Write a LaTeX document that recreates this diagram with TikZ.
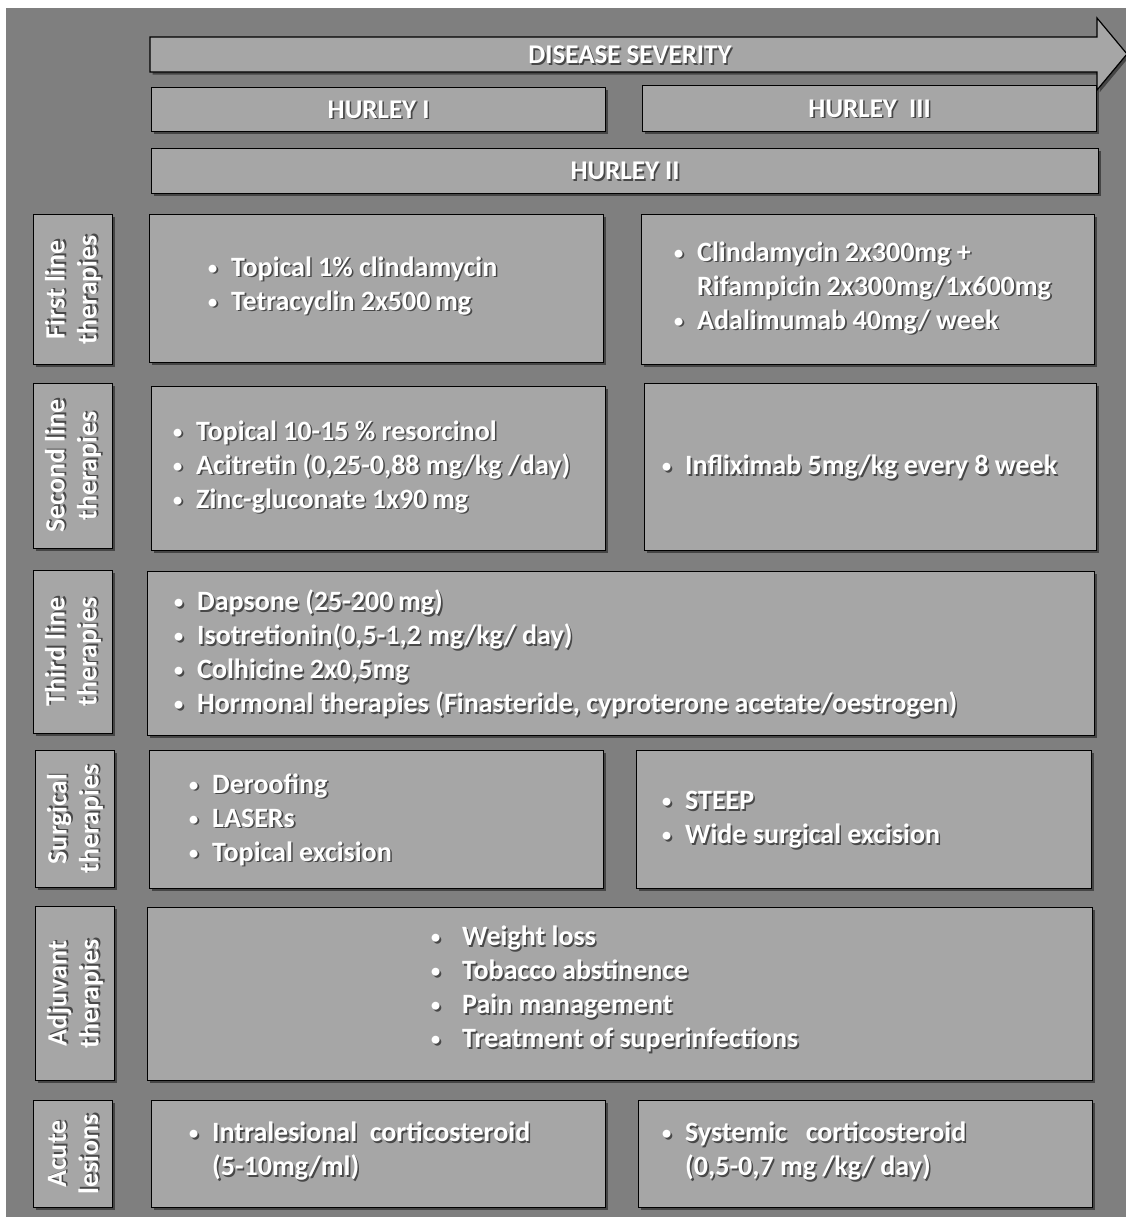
\documentclass[tikz,border=0pt]{standalone}
\usepackage{fontspec}
\setmainfont{Carlito}
\usetikzlibrary{positioning, shadows}
\definecolor{bggray}{RGB}{127,127,127}
\definecolor{boxgray}{RGB}{166,166,166}
\definecolor{txtshade}{RGB}{72,72,72}
\tikzset{
  panel/.style={draw=black, line width=1.2pt, fill=boxgray, anchor=north west, inner sep=0pt,
                drop shadow={shadow xshift=2.5pt, shadow yshift=-2.5pt, opacity=.45, fill=black}},
  bodytxt/.style={text=white, font=\fontsize{28}{34}\selectfont\bfseries, align=left, inner sep=0pt, anchor=west},
  headtxt/.style={text=white, font=\fontsize{27}{30}\selectfont\bfseries, inner sep=0pt},
  sidetxt/.style={text=white, font=\fontsize{28}{32}\selectfont\bfseries, align=center, inner sep=0pt, rotate=90},
}
\newcommand{\bul}[1]{\makebox[#1][l]{\raisebox{1pt}{\scalebox{.8}{\mdseries\textbullet}}}}
\newcommand{\itm}{\bul{24pt}}
\newcommand{\cont}{\hspace*{24pt}}
% text with its grey shadow: name, style, position, text
\newcommand{\shtext}[4]{%
  \node[#2, text=txtshade, xshift=1.6pt, yshift=-1.6pt] at #3 {#4};
  \node[#2] (#1) at #3 {#4};}

\begin{document}
\begin{tikzpicture}[x=1pt, y=-1pt]
\useasboundingbox (0,0) rectangle (1126,1219);
\fill[bggray] (6,8) rectangle (1126,1217);

% severity arrow
\coordinate (sevtip) at (1127,54);
\filldraw[draw=black, line width=1.2pt, fill=boxgray,
  drop shadow={shadow xshift=2.5pt, shadow yshift=-2.5pt, opacity=.45, fill=black}]
  (150,37) -- (1097,37) -- (1097,18) -- (sevtip) -- (1097,90) -- (1097,72) -- (150,72) -- cycle;
\shtext{sev}{headtxt}{(630,55)}{DISEASE SEVERITY}

% hurley stages
\node[panel, minimum width=454pt, minimum height=44pt] (h1) at (151,87) {};
\node[panel, minimum width=454pt, minimum height=46pt] (h3) at (642,85) {};
\node[panel, minimum width=947pt, minimum height=45pt] (h2) at (151,148) {};
\shtext{h1t}{headtxt}{(h1.center)}{HURLEY I}
\shtext{h3t}{headtxt}{(h3.center)}{HURLEY \ III}
\shtext{h2t}{headtxt}{(h2.center)}{HURLEY II}

% row labels
\node[panel, minimum width=79pt, minimum height=150pt] (lab1) at (33,214) {};
\node[panel, minimum width=79pt, minimum height=165pt] (lab2) at (33,383) {};
\node[panel, minimum width=79pt, minimum height=163pt] (lab3) at (33,570) {};
\node[panel, minimum width=79pt, minimum height=137pt] (lab4) at (35,750) {};
\node[panel, minimum width=79pt, minimum height=174pt] (lab5) at (35,906) {};
\node[panel, minimum width=79pt, minimum height=107pt] (lab6) at (33,1100) {};
\shtext{lab1t}{sidetxt}{(lab1.center)}{First line\\therapies}
\shtext{lab2t}{sidetxt}{(lab2.center)}{Second line\\therapies}
\shtext{lab3t}{sidetxt}{(lab3.center)}{Third line\\therapies}
\shtext{lab4t}{sidetxt}{(lab4.center)}{Surgical\\therapies}
\shtext{lab5t}{sidetxt}{(lab5.center)}{Adjuvant\\therapies}
\shtext{lab6t}{sidetxt}{(lab6.center)}{Acute\\lesions}

% therapy panels
\node[panel, minimum width=454pt, minimum height=148pt] (fla) at (149,214) {};
\node[panel, minimum width=453pt, minimum height=150pt] (flb) at (641,214) {};
\node[panel, minimum width=454pt, minimum height=164pt] (sla) at (151,386) {};
\node[panel, minimum width=452pt, minimum height=167pt] (slb) at (644,383) {};
\node[panel, minimum width=947pt, minimum height=164pt] (tl) at (147,571) {};
\node[panel, minimum width=454pt, minimum height=138pt] (sua) at (149,750) {};
\node[panel, minimum width=455pt, minimum height=138pt] (sub) at (636,750) {};
\node[panel, minimum width=945pt, minimum height=173pt] (adj) at (147,907) {};
\node[panel, minimum width=454pt, minimum height=107pt] (aca) at (151,1100) {};
\node[panel, minimum width=454pt, minimum height=107pt] (acb) at (638,1100) {};

\shtext{flat}{bodytxt}{([xshift=58pt, yshift=3pt]fla.west)}{\itm Topical 1\% clindamycin\\\itm Tetracyclin 2x500\,mg}
\shtext{flbt}{bodytxt}{([xshift=32pt, yshift=2pt]flb.west)}{\itm Clindamycin 2x300mg +\\\cont Rifampicin 2x300mg/1x600mg\\\itm Adalimumab 40mg/ week}
\shtext{slat}{bodytxt}{([xshift=21pt, yshift=2pt]sla.west)}{\itm Topical 10-15 \% resorcinol\\\itm Acitretin (0,25-0,88 mg/kg /day)\\\itm Zinc-gluconate 1x90\,mg}
\shtext{slbt}{bodytxt}{([xshift=17pt]slb.west)}{\itm Infliximab 5mg/kg every 8 week}
\shtext{tlt}{bodytxt}{([xshift=26pt]tl.west)}{\itm Dapsone (25-200\,mg)\\\itm Isotretionin(0,5-1,2 mg/kg/ day)\\\itm Colhicine 2x0,5mg\\\itm Hormonal therapies (Finasteride, cyproterone acetate/oestrogen)}
\shtext{suat}{bodytxt}{([xshift=39pt]sua.west)}{\itm Deroofing\\\itm LASERs\\\itm Topical excision}
\shtext{subt}{bodytxt}{([xshift=25pt]sub.west)}{\itm STEEP\\\itm Wide surgical excision}
\shtext{adjt}{bodytxt}{([xshift=283pt, yshift=5pt]adj.west)}{\bul{32pt}Weight loss\\\bul{32pt}Tobacco abstinence\\\bul{32pt}Pain management\\\bul{32pt}Treatment of superinfections}
\shtext{acat}{bodytxt}{([xshift=37pt, yshift=3pt]aca.west)}{\itm Intralesional \ corticosteroid\\\cont (5-10mg/ml)}
\shtext{acbt}{bodytxt}{([xshift=23pt, yshift=3pt]acb.west)}{\itm Systemic \ \ corticosteroid\\\cont (0,5-0,7 mg /kg/ day)}
\end{tikzpicture}
\end{document}
